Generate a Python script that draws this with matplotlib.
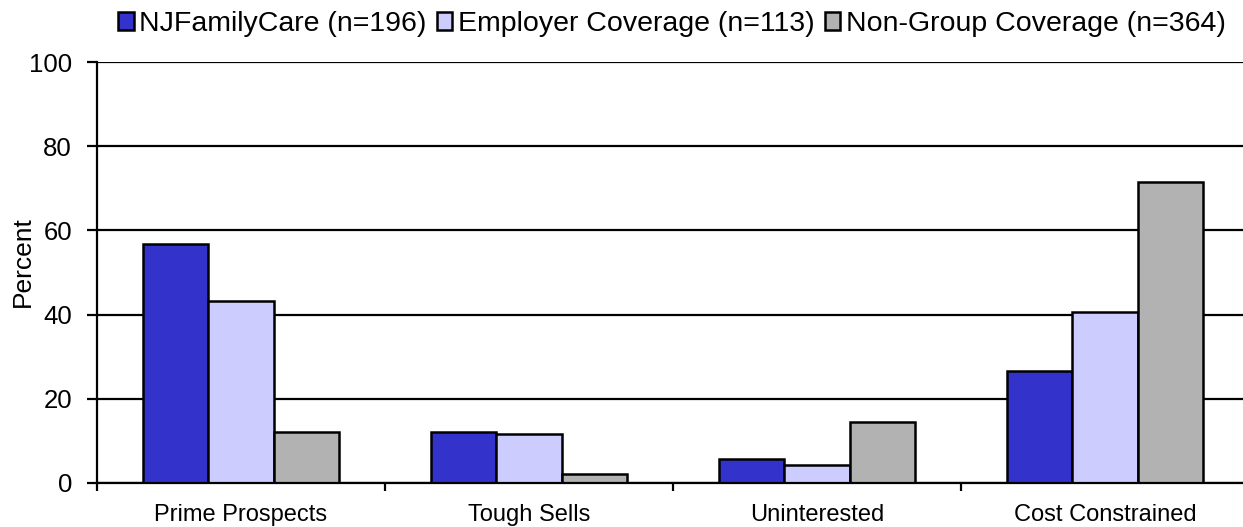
import matplotlib
matplotlib.use("Agg")
import matplotlib.pyplot as plt
import numpy as np

categories = ["Prime Prospects", "Tough Sells", "Uninterested", "Cost Constrained"]
series_names = ["NJFamilyCare (n=196)", "Employer Coverage (n=113)", "Non-Group Coverage (n=364)"]
njfamilycare = [56.7, 12.1, 5.8, 26.7]
employer = [43.2, 11.7, 4.3, 40.5]
nongroup = [12.2, 2.1, 14.4, 71.6]
colors = ["#3333CC", "#CCCCFF", "#B2B2B2"]
yticks = [0, 20, 40, 60, 80, 100]

plt.rcParams['font.family'] = ['Liberation Sans', 'DejaVu Sans']

fig = plt.figure(figsize=(12.43, 5.27), dpi=100)
ax = fig.add_axes([97/1243, 44/527, (1249-97)/1243, (483-62)/527])

x = np.arange(len(categories))
w = 0.226
for i, (vals, name, c) in enumerate(zip([njfamilycare, employer, nongroup], series_names, colors)):
    ax.bar(x + (i - 1) * w, vals, width=w, color=c, edgecolor='black', linewidth=1.8,
           label=name, zorder=3)

ax.set_ylim(0, 100)
ax.set_xlim(-0.5, len(categories) - 0.5)
ax.set_yticks(yticks)
ax.set_yticklabels([str(t) for t in yticks], fontsize=18.5)
ax.yaxis.grid(True, color='black', linewidth=1.6, zorder=0)
ax.set_axisbelow(True)

ax.set_xticks(x)
ax.set_xticklabels(categories, fontsize=17)
ax.tick_params(axis='x', which='major', length=0, pad=15)
ax.set_xticks(np.arange(-0.5, len(categories), 1.0), minor=True)
ax.tick_params(axis='x', which='minor', length=6, width=1.6, color='black', direction='out')
ax.tick_params(axis='y', length=7, width=1.6, direction='out', pad=11)

for s in ['top', 'right']:
    ax.spines[s].set_visible(False)
for s in ['left', 'bottom']:
    ax.spines[s].set_linewidth(1.6)
    ax.spines[s].set_zorder(4)

ax.set_ylabel("Percent", fontsize=19)
ax.yaxis.set_label_coords(-0.054, 0.527)

leg = fig.legend(loc='center', bbox_to_anchor=(672/1243, 1 - 24/527), ncol=3, frameon=False,
                 fontsize=20.5, handlelength=0.55, handleheight=0.55, handletextpad=0.2,
                 columnspacing=0.35, borderaxespad=0)

fig.savefig("out.png", dpi=100)
